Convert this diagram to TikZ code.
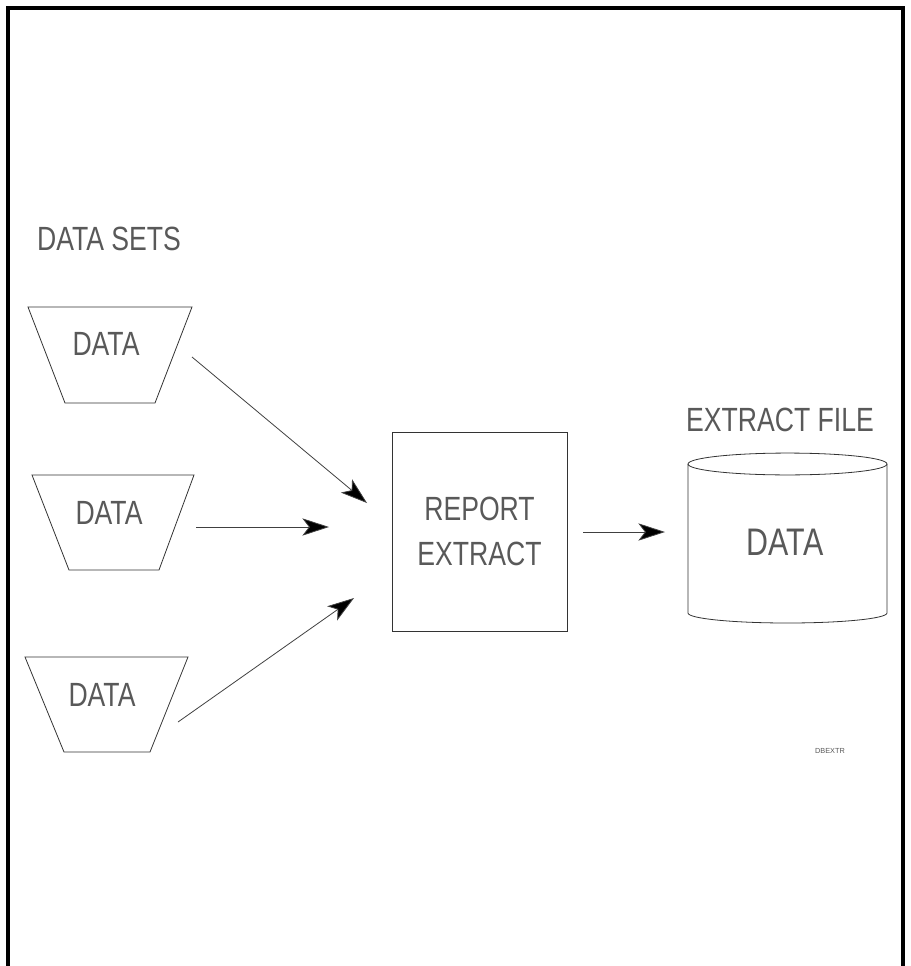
\documentclass[tikz,border=0pt]{standalone}
\usepackage{fontspec}
\setmainfont{Liberation Sans}
\usepackage{tikz}
\usetikzlibrary{arrows.meta,positioning}

\tikzset{
  lbl/.style={inner sep=0pt, text=black!65, font=\fontsize{21}{34}\selectfont},
  outline/.style={draw=black!80, line width=0.6pt},
  feed/.style={draw=black!75, line width=0.6pt, -{Stealth[length=20pt, width=13pt, inset=5pt, fill=black]}}
}

\begin{document}
\begin{tikzpicture}[x=0.75pt, y=-0.75pt]

\useasboundingbox (0,0) rectangle (910,966);

%Frame
\draw[line width=2.4pt] (8,970) -- (8,8) -- (903,8) -- (903,970);

%Data sets
\node[lbl] (sets) at (109,239) {\scalebox{0.95}[1.2]{DATA SETS}};

\draw[outline] (110,355) +(-82,-48) -- +(82,-48) -- +(45,48) -- +(-45,48) -- cycle;
\node[lbl] (d1) at (106,344) {\scalebox{0.95}[1.2]{DATA}};

\draw[outline] (113,522) +(-81,-47) -- +(81,-47) -- +(46,48) -- +(-44,48) -- cycle;
\node[lbl] (d2) at (109,513) {\scalebox{0.95}[1.2]{DATA}};

\draw[outline] (106,704) +(-81,-47) -- +(82,-47) -- +(44,48) -- +(-42,48) -- cycle;
\node[lbl] (d3) at (102,695) {\scalebox{0.95}[1.2]{DATA}};

%Report extract
\node[lbl, outline, minimum width=131.25pt, minimum height=149.25pt, align=center] (rx) at (479.5,531.5) {\scalebox{0.95}[1.2]{REPORT}\\\scalebox{0.95}[1.2]{EXTRACT}};

%Extract file
\node[lbl] (ef) at (780,420) {\scalebox{0.95}[1.2]{EXTRACT FILE}};
\draw[outline] (787.5,464) ellipse [x radius=74.6pt, y radius=8.2pt];
\draw[outline] (688,464) -- (688,613) arc[start angle=180, end angle=360, x radius=74.6pt, y radius=7.5pt] -- (887,464);
\node[lbl, font=\fontsize{24}{28}\selectfont] (df) at (785,542) {\scalebox{0.95}[1.2]{DATA}};

\node[lbl, font=\fontsize{5.5}{6}\selectfont] (tag) at (830,751) {DBEXTR};

%Arrow ends
\coordinate (a1) at (192,357);
\coordinate (b1) at (367,503);
\coordinate (a2) at (196,527);
\coordinate (b2) at (329,527);
\coordinate (a3) at (178,722);
\coordinate (b3) at (354,598);
\coordinate (a4) at (583,532);
\coordinate (b4) at (665,532);

%Arrows
\draw[feed] (a1) -- (b1);
\draw[feed] (a2) -- (b2);
\draw[feed] (a3) -- (b3);
\draw[feed] (a4) -- (b4);

\end{tikzpicture}
\end{document}
